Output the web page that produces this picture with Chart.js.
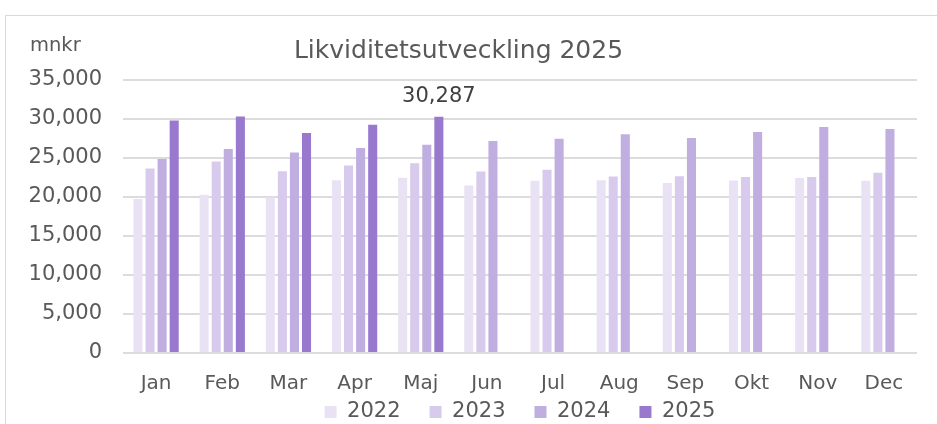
<!DOCTYPE html>
<html>
<head>
<meta charset="utf-8">
<script src="https://cdn.jsdelivr.net/npm/chart.js@4"></script>
<style>
    body { margin: 0; background: #fff; }
    #frame { position: absolute; left: 5px; top: 15px; width: 960px; height: 440px; border: 1px solid #d9d9d9; }
    #myChart { position: absolute; left: 0; top: 0; }
</style>
</head>
<body>
<div id="frame"></div>
<canvas id="myChart" width="937" height="424"></canvas>
<script>
// DATA
const months = ['Jan', 'Feb', 'Mar', 'Apr', 'Maj', 'Jun', 'Jul', 'Aug', 'Sep', 'Okt', 'Nov', 'Dec'];
const years = ['2022', '2023', '2024', '2025'];
const values2022 = [19740, 20290, 19950, 22160, 22460, 21480, 22080, 22160, 21780, 22110, 22420, 22080];
const values2023 = [23650, 24540, 23310, 24030, 24330, 23260, 23480, 22620, 22670, 22550, 22550, 23100];
const values2024 = [24880, 26160, 25690, 26290, 26710, 27180, 27470, 28030, 27560, 28330, 28970, 28710];
const values2025 = [29820, 30330, 28200, 29260, 30287, null, null, null, null, null, null, null];
const yTicks = [0, 5000, 10000, 15000, 20000, 25000, 30000, 35000];
const chartTitle = 'Likviditetsutveckling 2025';
const unitLabel = 'mnkr';
const labelIndex = 4; // Maj 2025 gets a value label

const colors = ['#e9e2f5', '#d8caec', '#c0aee1', '#9879cd'];
const textColor = '#595959';
const font = 'DejaVu Sans';

// draws the unit text and the single value label
const extraText = {
    id: 'extraText',
    afterDatasetsDraw(chart) {
        const ctx = chart.ctx;
        ctx.save();
        ctx.fillStyle = textColor;
        ctx.font = '19.5px "' + font + '"';
        ctx.textAlign = 'left';
        ctx.textBaseline = 'middle';
        ctx.fillText(unitLabel, 30, 46);

        const bar = chart.getDatasetMeta(3).data[labelIndex];
        ctx.fillStyle = '#404040';
        ctx.font = '21px "' + font + '"';
        ctx.textAlign = 'center';
        ctx.textBaseline = 'alphabetic';
        ctx.fillText(values2025[labelIndex].toLocaleString('en-US'), bar.x, bar.y - 15);
        ctx.restore();
    }
};

const seriesValues = [values2022, values2023, values2024, values2025];

const ctx = document.getElementById('myChart').getContext('2d');
const myChart = new Chart(ctx, {
    type: 'bar',
    data: {
        labels: months,
        datasets: years.map((y, i) => ({
            label: y,
            data: seriesValues[i],
            backgroundColor: colors[i],
            borderWidth: 0,
            categoryPercentage: 0.73,
            barPercentage: 0.75
        }))
    },
    options: {
        responsive: false,
        animation: false,
        layout: {
            padding: { left: 0, right: 20, top: 0, bottom: -8.5 }
        },
        plugins: {
            title: {
                display: true,
                text: chartTitle,
                color: textColor,
                font: { family: font, size: 25, weight: 'normal', lineHeight: 1.2 },
                padding: { top: 36, bottom: 14 }
            },
            legend: {
                position: 'bottom',
                fullSize: false,
                labels: {
                    color: textColor,
                    font: { family: font, size: 21 },
                    boxWidth: 12,
                    boxHeight: 12,
                    padding: 29
                }
            },
            tooltip: { enabled: false }
        },
        scales: {
            x: {
                grid: { display: false, drawTicks: false },
                border: { display: false },
                ticks: {
                    color: textColor,
                    font: { family: font, size: 20 },
                    // mirrored so the labels are not clipped to the thin axis box
                    mirror: true,
                    padding: -42.5,
                    maxRotation: 0
                },
                afterFit(scale) { scale.height = 19.5; }
            },
            y: {
                min: 0,
                max: 35000,
                afterBuildTicks(scale) { scale.ticks = yTicks.map(v => ({ value: v })); },
                grid: { color: '#dcdcdc', lineWidth: 2, drawTicks: false },
                border: { display: false },
                ticks: {
                    color: textColor,
                    font: { family: font, size: 21 },
                    padding: 21,
                    callback: v => v.toLocaleString('en-US')
                },
                afterFit(scale) { scale.width = 123; }
            }
        }
    },
    plugins: [extraText]
});
</script>
</body>
</html>
